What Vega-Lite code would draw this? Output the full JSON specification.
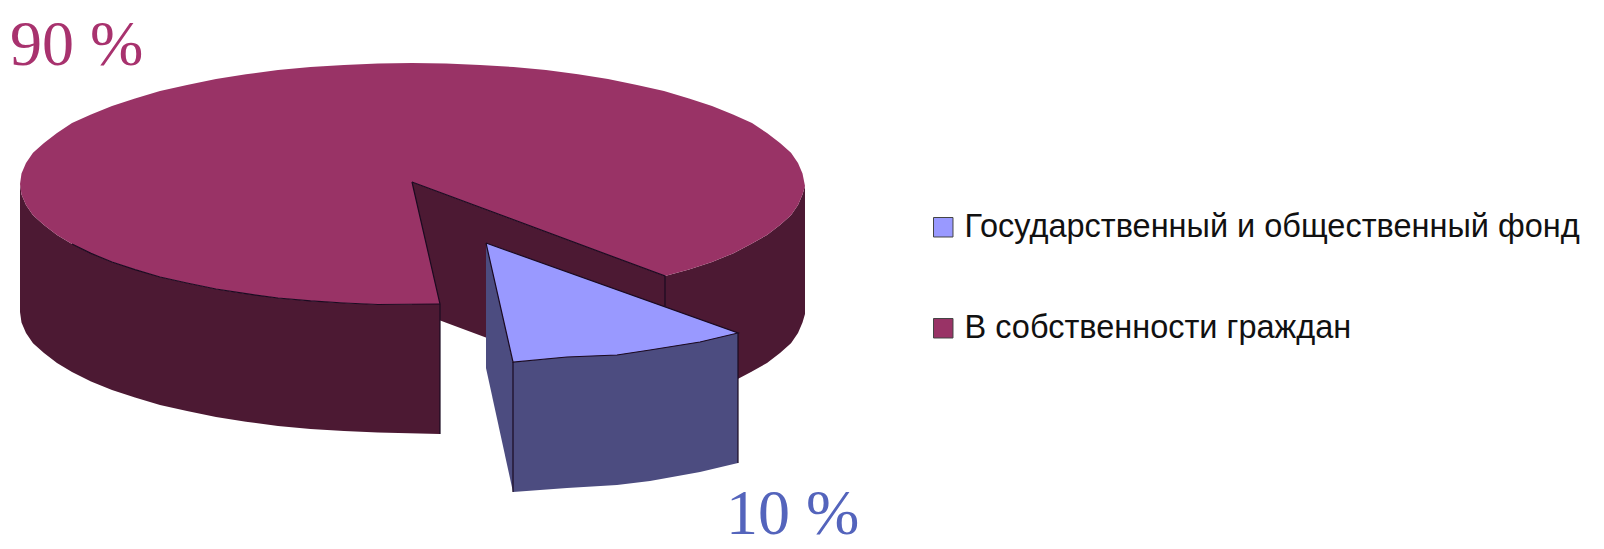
{"$schema":"https://vega.github.io/schema/vega-lite/v6.json","width":1604,"height":549,"autosize":{"type":"none"},"padding":0,"background":"white","view":{"stroke":null},
"datasets":{
"faces":[
{"part":"В собственности граждан (бок)","face":"inner","i":1,"x":412,"y":182},{"part":"В собственности граждан (бок)","face":"inner","i":2,"x":665,"y":276},{"part":"В собственности граждан (бок)","face":"inner","i":3,"x":665,"y":404},{"part":"В собственности граждан (бок)","face":"inner","i":4,"x":412,"y":310},{"part":"В собственности граждан (бок)","face":"inner","i":5,"x":412,"y":182},
{"part":"В собственности граждан (бок)","face":"right","i":1,"x":805,"y":186},{"part":"В собственности граждан (бок)","face":"right","i":2,"x":802.5,"y":194.6},{"part":"В собственности граждан (бок)","face":"right","i":3,"x":798,"y":205},{"part":"В собственности граждан (бок)","face":"right","i":4,"x":791,"y":215.3},{"part":"В собственности граждан (бок)","face":"right","i":5,"x":780,"y":225},{"part":"В собственности граждан (бок)","face":"right","i":6,"x":767,"y":235},{"part":"В собственности граждан (бок)","face":"right","i":7,"x":751,"y":244},{"part":"В собственности граждан (бок)","face":"right","i":8,"x":733,"y":253.4},{"part":"В собственности граждан (бок)","face":"right","i":9,"x":712,"y":262},{"part":"В собственности граждан (бок)","face":"right","i":10,"x":689,"y":269.6},{"part":"В собственности граждан (бок)","face":"right","i":11,"x":665,"y":276},{"part":"В собственности граждан (бок)","face":"right","i":12,"x":665,"y":404},{"part":"В собственности граждан (бок)","face":"right","i":13,"x":689,"y":397.6},{"part":"В собственности граждан (бок)","face":"right","i":14,"x":712,"y":390},{"part":"В собственности граждан (бок)","face":"right","i":15,"x":733,"y":381.4},{"part":"В собственности граждан (бок)","face":"right","i":16,"x":751,"y":372},{"part":"В собственности граждан (бок)","face":"right","i":17,"x":767,"y":363},{"part":"В собственности граждан (бок)","face":"right","i":18,"x":780,"y":353},{"part":"В собственности граждан (бок)","face":"right","i":19,"x":791,"y":343.3},{"part":"В собственности граждан (бок)","face":"right","i":20,"x":798,"y":333},{"part":"В собственности граждан (бок)","face":"right","i":21,"x":802.5,"y":322.6},{"part":"В собственности граждан (бок)","face":"right","i":22,"x":805,"y":314},{"part":"В собственности граждан (бок)","face":"right","i":23,"x":805,"y":186},
{"part":"В собственности граждан (бок)","face":"left","i":1,"x":440,"y":304},{"part":"В собственности граждан (бок)","face":"left","i":2,"x":378,"y":304.5},{"part":"В собственности граждан (бок)","face":"left","i":3,"x":344,"y":303},{"part":"В собственности граждан (бок)","face":"left","i":4,"x":310.5,"y":300.9},{"part":"В собственности граждан (бок)","face":"left","i":5,"x":278,"y":298},{"part":"В собственности граждан (бок)","face":"left","i":6,"x":246,"y":293.7},{"part":"В собственности граждан (бок)","face":"left","i":7,"x":216,"y":289},{"part":"В собственности граждан (бок)","face":"left","i":8,"x":187,"y":283},{"part":"В собственности граждан (бок)","face":"left","i":9,"x":160,"y":277},{"part":"В собственности граждан (бок)","face":"left","i":10,"x":135,"y":269.6},{"part":"В собственности граждан (бок)","face":"left","i":11,"x":112,"y":262},{"part":"В собственности граждан (бок)","face":"left","i":12,"x":91,"y":253.4},{"part":"В собственности граждан (бок)","face":"left","i":13,"x":72,"y":244},{"part":"В собственности граждан (бок)","face":"left","i":14,"x":57,"y":235},{"part":"В собственности граждан (бок)","face":"left","i":15,"x":44,"y":225},{"part":"В собственности граждан (бок)","face":"left","i":16,"x":33,"y":215.3},{"part":"В собственности граждан (бок)","face":"left","i":17,"x":26,"y":205},{"part":"В собственности граждан (бок)","face":"left","i":18,"x":21.5,"y":194.6},{"part":"В собственности граждан (бок)","face":"left","i":19,"x":20,"y":184},{"part":"В собственности граждан (бок)","face":"left","i":20,"x":20,"y":312},{"part":"В собственности граждан (бок)","face":"left","i":21,"x":21.5,"y":322.6},{"part":"В собственности граждан (бок)","face":"left","i":22,"x":26,"y":333},{"part":"В собственности граждан (бок)","face":"left","i":23,"x":33,"y":343.3},{"part":"В собственности граждан (бок)","face":"left","i":24,"x":44,"y":353},{"part":"В собственности граждан (бок)","face":"left","i":25,"x":57,"y":363},{"part":"В собственности граждан (бок)","face":"left","i":26,"x":72,"y":372},{"part":"В собственности граждан (бок)","face":"left","i":27,"x":91,"y":381.4},{"part":"В собственности граждан (бок)","face":"left","i":28,"x":112,"y":390},{"part":"В собственности граждан (бок)","face":"left","i":29,"x":135,"y":397.6},{"part":"В собственности граждан (бок)","face":"left","i":30,"x":160,"y":405},{"part":"В собственности граждан (бок)","face":"left","i":31,"x":187,"y":411},{"part":"В собственности граждан (бок)","face":"left","i":32,"x":216,"y":417},{"part":"В собственности граждан (бок)","face":"left","i":33,"x":246,"y":421.7},{"part":"В собственности граждан (бок)","face":"left","i":34,"x":278,"y":426},{"part":"В собственности граждан (бок)","face":"left","i":35,"x":310.5,"y":428.9},{"part":"В собственности граждан (бок)","face":"left","i":36,"x":344,"y":431},{"part":"В собственности граждан (бок)","face":"left","i":37,"x":378,"y":432.5},{"part":"В собственности граждан (бок)","face":"left","i":38,"x":440,"y":434},{"part":"В собственности граждан (бок)","face":"left","i":39,"x":440,"y":304},
{"part":"В собственности граждан","face":"top","i":1,"x":412,"y":182},{"part":"В собственности граждан","face":"top","i":2,"x":440,"y":304},{"part":"В собственности граждан","face":"top","i":3,"x":378,"y":304.5},{"part":"В собственности граждан","face":"top","i":4,"x":344,"y":303},{"part":"В собственности граждан","face":"top","i":5,"x":310.5,"y":300.9},{"part":"В собственности граждан","face":"top","i":6,"x":278,"y":298},{"part":"В собственности граждан","face":"top","i":7,"x":246,"y":293.7},{"part":"В собственности граждан","face":"top","i":8,"x":216,"y":289},{"part":"В собственности граждан","face":"top","i":9,"x":187,"y":283},{"part":"В собственности граждан","face":"top","i":10,"x":160,"y":277},{"part":"В собственности граждан","face":"top","i":11,"x":135,"y":269.6},{"part":"В собственности граждан","face":"top","i":12,"x":112,"y":262},{"part":"В собственности граждан","face":"top","i":13,"x":91,"y":253.4},{"part":"В собственности граждан","face":"top","i":14,"x":72,"y":244},{"part":"В собственности граждан","face":"top","i":15,"x":57,"y":235},{"part":"В собственности граждан","face":"top","i":16,"x":44,"y":225},{"part":"В собственности граждан","face":"top","i":17,"x":33,"y":215.3},{"part":"В собственности граждан","face":"top","i":18,"x":26,"y":205},{"part":"В собственности граждан","face":"top","i":19,"x":21.5,"y":194.6},{"part":"В собственности граждан","face":"top","i":20,"x":20,"y":184},{"part":"В собственности граждан","face":"top","i":21,"x":21.5,"y":173.4},{"part":"В собственности граждан","face":"top","i":22,"x":26,"y":163},{"part":"В собственности граждан","face":"top","i":23,"x":33,"y":152.7},{"part":"В собственности граждан","face":"top","i":24,"x":44,"y":143},{"part":"В собственности граждан","face":"top","i":25,"x":57,"y":133},{"part":"В собственности граждан","face":"top","i":26,"x":72,"y":123},{"part":"В собственности граждан","face":"top","i":27,"x":91,"y":114.6},{"part":"В собственности граждан","face":"top","i":28,"x":112,"y":106},{"part":"В собственности граждан","face":"top","i":29,"x":135,"y":98.4},{"part":"В собственности граждан","face":"top","i":30,"x":160,"y":91},{"part":"В собственности граждан","face":"top","i":31,"x":187,"y":85},{"part":"В собственности граждан","face":"top","i":32,"x":216,"y":79},{"part":"В собственности граждан","face":"top","i":33,"x":246,"y":74.3},{"part":"В собственности граждан","face":"top","i":34,"x":278,"y":70},{"part":"В собственности граждан","face":"top","i":35,"x":310.5,"y":67},{"part":"В собственности граждан","face":"top","i":36,"x":344,"y":65},{"part":"В собственности граждан","face":"top","i":37,"x":378,"y":63.5},{"part":"В собственности граждан","face":"top","i":38,"x":412,"y":63},{"part":"В собственности граждан","face":"top","i":39,"x":446,"y":63.5},{"part":"В собственности граждан","face":"top","i":40,"x":480,"y":65},{"part":"В собственности граждан","face":"top","i":41,"x":513.5,"y":67},{"part":"В собственности граждан","face":"top","i":42,"x":546,"y":70},{"part":"В собственности граждан","face":"top","i":43,"x":578,"y":74.3},{"part":"В собственности граждан","face":"top","i":44,"x":608,"y":79},{"part":"В собственности граждан","face":"top","i":45,"x":637,"y":85},{"part":"В собственности граждан","face":"top","i":46,"x":664,"y":91},{"part":"В собственности граждан","face":"top","i":47,"x":689,"y":98.4},{"part":"В собственности граждан","face":"top","i":48,"x":712,"y":106},{"part":"В собственности граждан","face":"top","i":49,"x":733,"y":114.6},{"part":"В собственности граждан","face":"top","i":50,"x":752,"y":123},{"part":"В собственности граждан","face":"top","i":51,"x":767,"y":133},{"part":"В собственности граждан","face":"top","i":52,"x":780,"y":143},{"part":"В собственности граждан","face":"top","i":53,"x":791,"y":152.7},{"part":"В собственности граждан","face":"top","i":54,"x":798,"y":163},{"part":"В собственности граждан","face":"top","i":55,"x":802.5,"y":173.4},{"part":"В собственности граждан","face":"top","i":56,"x":805,"y":186},{"part":"В собственности граждан","face":"top","i":57,"x":802.5,"y":194.6},{"part":"В собственности граждан","face":"top","i":58,"x":798,"y":205},{"part":"В собственности граждан","face":"top","i":59,"x":791,"y":215.3},{"part":"В собственности граждан","face":"top","i":60,"x":780,"y":225},{"part":"В собственности граждан","face":"top","i":61,"x":767,"y":235},{"part":"В собственности граждан","face":"top","i":62,"x":751,"y":244},{"part":"В собственности граждан","face":"top","i":63,"x":733,"y":253.4},{"part":"В собственности граждан","face":"top","i":64,"x":712,"y":262},{"part":"В собственности граждан","face":"top","i":65,"x":689,"y":269.6},{"part":"В собственности граждан","face":"top","i":66,"x":665,"y":276},{"part":"В собственности граждан","face":"top","i":67,"x":412,"y":182},
{"part":"Государственный и общественный фонд (бок)","face":"bside","i":1,"x":486,"y":243},{"part":"Государственный и общественный фонд (бок)","face":"bside","i":2,"x":513,"y":362},{"part":"Государственный и общественный фонд (бок)","face":"bside","i":3,"x":513,"y":492},{"part":"Государственный и общественный фонд (бок)","face":"bside","i":4,"x":486,"y":368},{"part":"Государственный и общественный фонд (бок)","face":"bside","i":5,"x":486,"y":243},
{"part":"Государственный и общественный фонд (бок)","face":"bfront","i":1,"x":513,"y":362},{"part":"Государственный и общественный фонд (бок)","face":"bfront","i":2,"x":567,"y":357},{"part":"Государственный и общественный фонд (бок)","face":"bfront","i":3,"x":617,"y":355},{"part":"Государственный и общественный фонд (бок)","face":"bfront","i":4,"x":650,"y":350},{"part":"Государственный и общественный фонд (бок)","face":"bfront","i":5,"x":700,"y":342},{"part":"Государственный и общественный фонд (бок)","face":"bfront","i":6,"x":738,"y":333},{"part":"Государственный и общественный фонд (бок)","face":"bfront","i":7,"x":738,"y":463},{"part":"Государственный и общественный фонд (бок)","face":"bfront","i":8,"x":700,"y":472},{"part":"Государственный и общественный фонд (бок)","face":"bfront","i":9,"x":650,"y":481},{"part":"Государственный и общественный фонд (бок)","face":"bfront","i":10,"x":617,"y":485},{"part":"Государственный и общественный фонд (бок)","face":"bfront","i":11,"x":567,"y":488},{"part":"Государственный и общественный фонд (бок)","face":"bfront","i":12,"x":513,"y":492},{"part":"Государственный и общественный фонд (бок)","face":"bfront","i":13,"x":513,"y":362},
{"part":"Государственный и общественный фонд","face":"btop","i":1,"x":486,"y":243},{"part":"Государственный и общественный фонд","face":"btop","i":2,"x":738,"y":333},{"part":"Государственный и общественный фонд","face":"btop","i":3,"x":700,"y":342},{"part":"Государственный и общественный фонд","face":"btop","i":4,"x":650,"y":350},{"part":"Государственный и общественный фонд","face":"btop","i":5,"x":617,"y":355},{"part":"Государственный и общественный фонд","face":"btop","i":6,"x":567,"y":357},{"part":"Государственный и общественный фонд","face":"btop","i":7,"x":513,"y":362},{"part":"Государственный и общественный фонд","face":"btop","i":8,"x":486,"y":243}
],
"edges":[
{"edge":"a","i":1,"x":412,"y":182},{"edge":"a","i":2,"x":665,"y":276},{"edge":"a","i":3,"x":665,"y":306},
{"edge":"b","i":1,"x":486,"y":243},{"edge":"b","i":2,"x":738,"y":333},{"edge":"b","i":3,"x":700,"y":342},{"edge":"b","i":4,"x":650,"y":350},{"edge":"b","i":5,"x":617,"y":355},{"edge":"b","i":6,"x":567,"y":357},{"edge":"b","i":7,"x":513,"y":362},{"edge":"b","i":8,"x":486,"y":243},
{"edge":"c","i":1,"x":513,"y":362},{"edge":"c","i":2,"x":513,"y":492},
{"edge":"d","i":1,"x":738,"y":333},{"edge":"d","i":2,"x":738,"y":463},
{"edge":"e","i":1,"x":440,"y":304},{"edge":"e","i":2,"x":378,"y":304.5},{"edge":"e","i":3,"x":344,"y":303},{"edge":"e","i":4,"x":310.5,"y":300.9},{"edge":"e","i":5,"x":278,"y":298},{"edge":"e","i":6,"x":246,"y":293.7},{"edge":"e","i":7,"x":216,"y":289},{"edge":"e","i":8,"x":187,"y":283},{"edge":"e","i":9,"x":160,"y":277},{"edge":"e","i":10,"x":135,"y":269.6},{"edge":"e","i":11,"x":112,"y":262},{"edge":"e","i":12,"x":91,"y":253.4},{"edge":"e","i":13,"x":72,"y":244},
{"edge":"f","i":1,"x":412,"y":182},{"edge":"f","i":2,"x":440,"y":304},{"edge":"f","i":3,"x":440,"y":434}
],
"labels":[{"share":"90 %","lx":10,"ly":65,"c":"#A8326E"},{"share":"10 %","lx":726,"ly":534,"c":"#5464BC"}]
},
"encoding":{"x":{"field":"x","type":"quantitative","scale":{"domain":[0,1604],"nice":false,"zero":false},"axis":null},"y":{"field":"y","type":"quantitative","scale":{"domain":[549,0],"nice":false,"zero":false},"axis":null}},
"layer":[
{"data":{"name":"faces"},"mark":{"type":"line","filled":true,"strokeWidth":0,"interpolate":"linear"},
"encoding":{"order":{"field":"i","type":"quantitative"},"detail":{"field":"face"},"color":{"field":"part","type":"nominal","sort":null,"scale":{"domain":["Государственный и общественный фонд","В собственности граждан","Государственный и общественный фонд (бок)","В собственности граждан (бок)"],"range":["#9999FF","#993366","#4C4C80","#4C1933"]},"legend":{"title":null,"values":["Государственный и общественный фонд","В собственности граждан"],"orient":"none","legendX":927,"legendY":211,"symbolType":"square","symbolSize":380,"symbolStrokeWidth":1,"symbolStrokeColor":"#444","labelFont":"Liberation Sans","labelFontSize":32.5,"labelColor":"#111","labelLimit":700,"rowPadding":68,"labelOffset":5,"columns":1}}}},
{"data":{"name":"edges"},"mark":{"type":"line","color":"#1a0a20","strokeWidth":1.2},"encoding":{"order":{"field":"i","type":"quantitative"},"detail":{"field":"edge"}}},
{"data":{"name":"labels"},"mark":{"type":"text","font":"Liberation Serif","fontSize":64,"align":"left","baseline":"alphabetic","fontWeight":"normal"},"encoding":{"x":{"field":"lx","type":"quantitative"},"y":{"field":"ly","type":"quantitative"},"text":{"field":"share"},"color":{"field":"c","type":"nominal","scale":null}}}
],
"config":{"legend":{"symbolOpacity":1}}}
